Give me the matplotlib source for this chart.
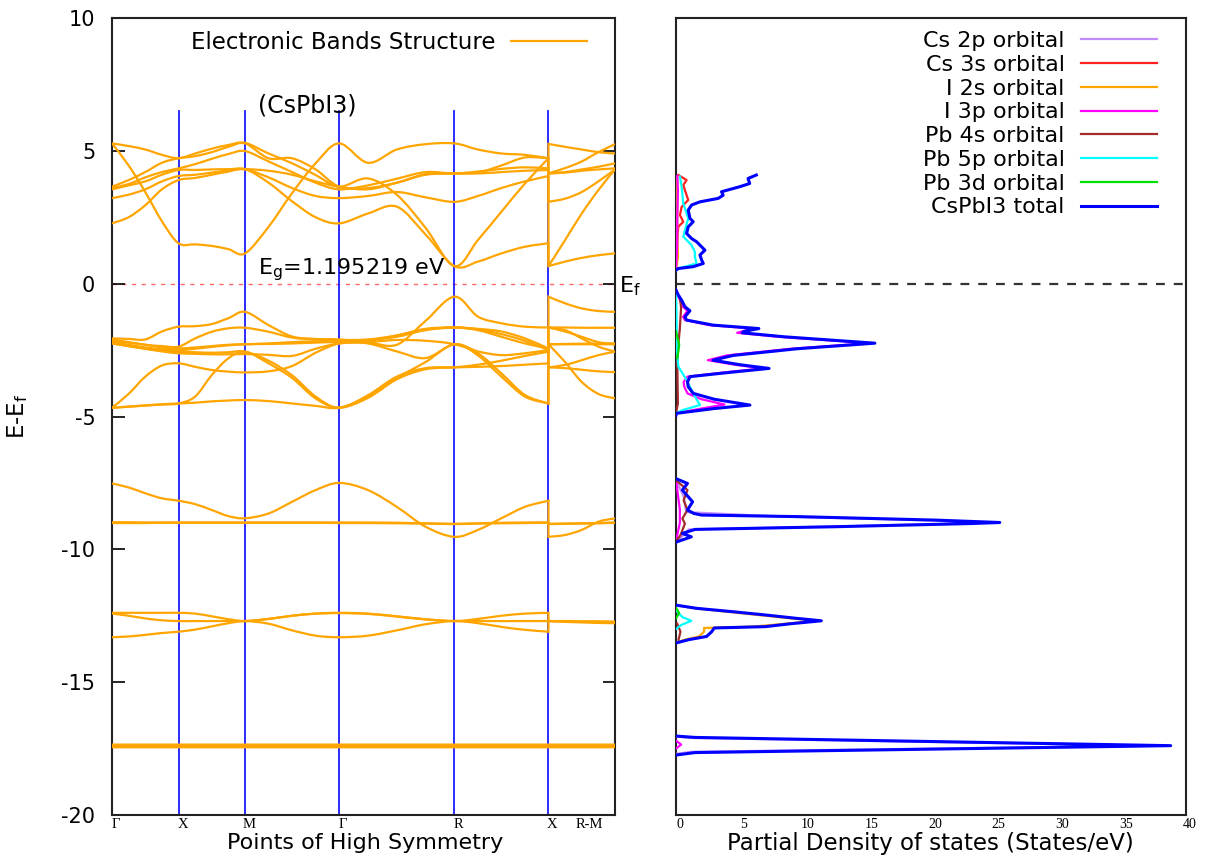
import numpy as np
import matplotlib
matplotlib.use('Agg')
import matplotlib.pyplot as plt
from matplotlib.path import Path
from matplotlib.patches import PathPatch
from matplotlib.lines import Line2D
import matplotlib.transforms as mtransforms

plt.rcParams['axes.unicode_minus'] = False

# ---------------- high-symmetry path ----------------
K_NODES = [0.0, 0.5, 1.0, 1.7071, 2.5731, 3.2802, 3.7802]
NODE_LABELS = ['Γ', 'X', 'M', 'Γ', 'R', 'X']
RM_LABEL = 'R-M'
RM_LABEL_K = 3.56
VLINE_TOP = 6.5
EG_TEXT = 'E$_\\mathrm{g}$=1.195219 eV'

# band energies (eV) sampled at 0,1/4,1/2,3/4 of each segment
# order: G..X..M..G..R..X (21 pts) | R..M (5 pts)
CB1 = [5.28, 4.45, 3.45, 2.35, 1.52, 1.48, 1.42, 1.30, 1.14, 2.14, 3.41, 4.53, 5.28, 4.55, 5.05, 5.25, 5.28, 5.05, 4.90, 4.85, 4.72,
       5.26, 5.15, 5.05, 4.95, 4.90]
CB2 = [5.28, 5.18, 5.05, 4.85, 4.72, 4.90, 5.08, 5.22, 5.30, 4.90, 4.53, 4.09, 3.65, 3.96, 3.35, 2.10, 0.66, 1.64, 2.71, 3.77, 4.72,
       0.66, 1.64, 2.64, 3.52, 4.30]
CB3 = [3.65, 3.90, 4.20, 4.55, 4.72, 4.80, 4.95, 5.15, 5.28, 4.72, 4.72, 4.30, 3.65, 3.60, 3.80, 4.10, 4.15, 4.18, 4.45, 4.75, 4.72,
       4.15, 4.35, 4.60, 4.95, 5.25]
CB4 = [3.60, 3.75, 4.00, 4.20, 4.34, 4.50, 4.70, 4.88, 4.99, 4.60, 4.20, 3.80, 3.55, 3.70, 3.95, 4.20, 4.15, 4.22, 4.32, 4.38, 4.34,
       4.15, 4.20, 4.30, 4.40, 4.53]
CB5 = [3.55, 3.70, 3.85, 4.10, 4.28, 4.28, 4.30, 4.31, 4.31, 4.00, 3.60, 3.30, 3.22, 3.30, 3.45, 3.25, 3.08, 3.30, 3.60, 3.85, 4.05,
       3.08, 3.20, 3.45, 3.85, 4.30]
CB6 = [3.22, 3.35, 3.55, 3.85, 4.05, 4.10, 4.18, 4.26, 4.31, 4.25, 4.10, 3.85, 3.65, 3.55, 3.80, 4.12, 4.15, 4.15, 4.20, 4.25, 4.28,
       4.15, 4.18, 4.25, 4.30, 4.34]
CB7 = [2.27, 2.50, 2.95, 3.55, 3.90, 3.98, 4.10, 4.22, 4.31, 3.80, 3.10, 2.50, 2.27, 2.64, 2.90, 1.85, 0.66, 0.83, 1.14, 1.39, 1.52,
       0.66, 0.83, 0.97, 1.07, 1.14]

VB1 = [-2.06, -2.08, -2.10, -1.80, -1.62, -1.60, -1.52, -1.30, -1.06, -1.56, -1.99, -2.08, -2.10, -2.20, -2.30, -1.40, -0.49, -1.24, -1.49, -1.62, -1.65,
       -0.49, -0.74, -0.93, -1.03, -1.06]
VB2 = [-2.10, -2.20, -2.30, -2.35, -2.37, -2.06, -1.81, -1.68, -1.66, -1.81, -2.03, -2.10, -2.12, -2.10, -1.95, -1.72, -1.65, -1.70, -1.80, -2.06, -2.44,
       -1.65, -1.65, -1.66, -1.66, -1.66]
VB3 = [-2.15, -2.22, -2.30, -2.40, -2.44, -2.40, -2.35, -2.30, -2.28, -2.25, -2.20, -2.17, -2.15, -2.12, -2.00, -1.75, -1.65, -1.72, -1.90, -2.15, -2.50,
       -1.65, -1.75, -2.06, -2.37, -2.56]
VB4 = [-2.20, -2.30, -2.40, -2.47, -2.50, -2.45, -2.38, -2.32, -2.28, -2.27, -2.25, -2.22, -2.20, -2.25, -2.55, -2.80, -2.28, -2.55, -2.69, -2.62, -2.50,
       -2.28, -2.28, -2.28, -2.28, -2.28]
VB5 = [-2.25, -2.35, -2.45, -2.52, -2.56, -2.58, -2.60, -2.58, -2.56, -2.90, -3.45, -4.25, -4.67, -4.20, -3.50, -3.18, -3.15, -3.13, -3.10, -3.05, -3.00,
       -3.15, -3.18, -3.24, -3.30, -3.33]
VB6 = [-2.25, -2.35, -2.45, -2.55, -2.62, -2.64, -2.66, -2.66, -2.65, -2.68, -2.72, -2.45, -2.25, -2.20, -2.12, -2.15, -2.28, -2.62, -3.38, -4.19, -4.51,
       -2.28, -2.95, -3.70, -4.15, -4.32]
VB7 = [-4.67, -4.15, -3.50, -3.08, -3.00, -3.13, -3.25, -3.31, -3.34, -3.30, -3.10, -2.60, -2.25, -2.15, -1.95, -1.70, -1.65, -1.75, -2.00, -2.25, -2.44,
       -1.65, -1.80, -2.00, -2.20, -2.28]
VB8 = [-4.67, -4.63, -4.59, -4.55, -4.51, -4.25, -3.44, -2.81, -2.56, -3.00, -3.55, -4.32, -4.67, -4.30, -3.60, -3.22, -3.15, -3.05, -2.90, -2.72, -2.56,
       -3.15, -3.06, -2.88, -2.69, -2.56]
VB9 = [-4.67, -4.63, -4.58, -4.54, -4.51, -4.48, -4.43, -4.40, -4.38, -4.42, -4.51, -4.60, -4.67, -4.25, -3.55, -2.95, -2.28, -2.70, -3.50, -4.25, -4.51,
       -2.28, -2.27, -2.26, -2.25, -2.25]

SB1 = [-7.52, -7.67, -7.89, -8.08, -8.17, -8.30, -8.52, -8.75, -8.83, -8.65, -8.21, -7.77, -7.50, -7.77, -8.40, -9.15, -9.53, -9.27, -8.83, -8.40, -8.17,
       -9.53, -9.46, -9.27, -8.96, -8.83]
FB1 = [-8.98, -8.98, -8.99, -8.99, -8.99, -8.99, -8.99, -8.99, -8.99, -8.99, -8.99, -8.99, -8.99, -8.99, -9.00, -9.02, -9.04, -9.02, -9.00, -8.99, -8.99,
       -9.04, -9.03, -9.02, -9.01, -8.99]
FB2 = [-9.01, -9.01, -9.01, -9.00, -9.00, -9.00, -9.00, -9.00, -9.00, -9.00, -9.00, -9.00, -9.01, -9.01, -9.02, -9.03, -9.05, -9.03, -9.02, -9.01, -9.00,
       -9.05, -9.04, -9.03, -9.02, -9.00]
PB1 = [-12.39, -12.39, -12.39, -12.39, -12.39, -12.42, -12.52, -12.63, -12.70, -12.62, -12.50, -12.42, -12.39, -12.42, -12.52, -12.63, -12.70, -12.62, -12.50, -12.42, -12.39,
       -12.70, -12.70, -12.71, -12.71, -12.72]
PB2 = [-12.42, -12.50, -12.60, -12.67, -12.70, -12.70, -12.70, -12.70, -12.70, -12.62, -12.50, -12.42, -12.40, -12.43, -12.53, -12.64, -12.70, -12.70, -12.70, -12.70, -12.70,
       -12.70, -12.71, -12.72, -12.73, -12.74]
PB3 = [-13.31, -13.28, -13.22, -13.15, -13.10, -13.02, -12.90, -12.78, -12.70, -12.80, -13.05, -13.25, -13.31, -13.25, -13.05, -12.82, -12.70, -12.78, -12.92, -13.03, -13.10,
       -12.70, -12.73, -12.75, -12.77, -12.78]
DB1 = [-17.35, -17.35, -17.35, -17.35, -17.35, -17.35, -17.35, -17.35, -17.35, -17.35, -17.35, -17.35, -17.35, -17.35, -17.35, -17.35, -17.35, -17.35, -17.35, -17.35, -17.35,
       -17.35, -17.35, -17.35, -17.35, -17.35]
DB2 = [-17.40, -17.40, -17.40, -17.40, -17.40, -17.40, -17.40, -17.40, -17.40, -17.40, -17.40, -17.40, -17.40, -17.40, -17.40, -17.40, -17.40, -17.40, -17.40, -17.40, -17.40,
       -17.40, -17.40, -17.40, -17.40, -17.40]
DB3 = [-17.45, -17.45, -17.45, -17.45, -17.45, -17.45, -17.45, -17.45, -17.45, -17.45, -17.45, -17.45, -17.45, -17.45, -17.45, -17.45, -17.45, -17.45, -17.45, -17.45, -17.45,
       -17.45, -17.45, -17.45, -17.45, -17.45]

BANDS = [CB1, CB2, CB3, CB4, CB5, CB6, CB7, VB1, VB2, VB3, VB4, VB5, VB6, VB7, VB8, VB9,
         SB1, FB1, FB2, PB1, PB2, PB3, DB1, DB2, DB3]

# ---------------- PDOS (energy eV, states/eV), NaN separates energy windows ----------------
NAN = float('nan')
TOT_E = [0.51, 0.57, 0.64, 0.76, 0.90, 1.08, 1.26, 1.45, 1.58, 1.70, 1.89, 2.14, 2.33, 2.46, 2.77, 2.96, 3.08, 3.21, 3.33, 3.46, 3.65, 3.77, 3.96, 4.09, NAN,
         -0.24, -0.43, -0.62, -0.87, -1.02, -1.25, -1.37, -1.56, -1.69, -1.80, -1.85, -2.00, -2.24, -2.45, -2.70, -2.88, -3.05, -3.19, -3.35, -3.50, -3.70, -3.88, -4.13, -4.35, -4.57, -4.70, -4.88, -4.95, NAN,
         -7.35, -7.52, -7.77, -8.21, -8.52, -8.65, -8.71, -8.77, -8.90, -8.99, -9.03, -9.15, -9.25, -9.40, -9.53, -9.72, NAN,
         -12.10, -12.22, -12.35, -12.47, -12.60, -12.69, -12.80, -12.91, -12.96, -13.10, -13.28, -13.40, -13.52, NAN,
         -17.03, -17.08, -17.39, -17.65, -17.74]
TOT_D = [0.0, 0.18, 1.35, 2.14, 2.00, 1.88, 2.27, 1.88, 1.61, 1.22, 0.83, 0.96, 1.35, 1.09, 0.96, 1.22, 1.88, 3.31, 3.70, 3.57, 5.00, 5.78, 5.65, 6.30, NAN,
         0.0, 0.18, 0.44, 0.70, 1.09, 0.70, 0.83, 2.90, 6.50, 5.30, 5.20, 8.50, 15.6, 9.50, 4.50, 2.90, 5.00, 7.30, 4.00, 1.10, 0.90, 0.96, 1.35, 3.00, 5.80, 3.00, 0.05, 0.0, NAN,
         0.05, 0.90, 0.50, 1.30, 0.90, 1.40, 2.00, 9.70, 20.4, 25.4, 23.1, 12.4, 1.50, 0.50, 1.20, 0.05, NAN,
         0.0, 1.60, 4.50, 7.00, 9.50, 11.4, 9.00, 7.00, 3.00, 2.80, 2.40, 1.00, 0.05, NAN,
         0.05, 1.50, 38.8, 1.50, 0.05]

I3P_E = [0.5, 1.5, 2.5, 3.5, 4.05, NAN,
         -0.24, -0.50, -0.87, -1.02, -1.25, -1.37, -1.56, -1.69, -1.85, -2.00, -2.24, -2.45, -2.70, -2.88, -3.05, -3.19, -3.35, -3.50, -3.70, -3.88, -4.13, -4.35, -4.55, -4.70, -4.88, NAN,
         -7.4, -8.5, -9.0, -9.7, NAN, -17.2, -17.35, -17.5]
I3P_D = [0.0, 0.1, 0.1, 0.15, 0.1, NAN,
         0.0, 0.20, 0.55, 0.90, 0.55, 0.70, 2.60, 6.00, 4.80, 8.00, 15.2, 9.00, 4.00, 2.50, 4.60, 6.80, 3.60, 0.90, 0.60, 0.65, 0.90, 2.00, 3.80, 2.00, 0.0, NAN,
         0.0, 0.3, 0.3, 0.0, NAN, 0.0, 0.4, 0.0]

PB5P_E = [0.51, 0.57, 0.76, 1.01, 1.20, 1.45, 1.77, 2.46, 3.02, 3.65, 4.03, NAN,
          -0.3, -1.5, -2.37, -3.12, -3.62, -4.13, -4.57, -4.76, -4.88, NAN,
          -12.30, -12.55, -12.69, -12.85, -13.0]
PB5P_D = [0.0, 0.18, 1.61, 1.48, 1.48, 1.22, 0.57, 0.96, 0.57, 0.44, 0.31, NAN,
          0.0, 0.05, 0.05, 0.18, 0.83, 1.35, 1.88, 0.5, 0.0, NAN,
          0.0, 0.5, 1.2, 0.4, 0.0]

CS3S_E = [1.20, 1.39, 2.14, 2.33, 2.58, 2.89, 3.15, 3.52, 3.71, 3.90, 4.09]
CS3S_D = [0.0, 0.05, 0.18, 0.57, 0.31, 0.44, 0.96, 0.70, 0.57, 0.83, 0.18]

PB4S_E = [-0.3, -0.5, -0.9, -1.3, -1.7, -2.2, -3.0, -4.5, -4.9, NAN,
          -7.40, -7.77, -8.15, -8.52, -8.84, -9.03, -9.47, -9.70, NAN,
          -12.8, -13.1, -13.4]
PB4S_D = [0.0, 0.3, 0.4, 0.35, 0.3, 0.2, 0.1, 0.15, 0.0, NAN,
          0.0, 0.9, 0.6, 0.9, 0.5, 0.7, 0.35, 0.0, NAN,
          0.1, 0.35, 0.2]

I2S_E = [0.5, 1.0, 2.0, 4.0, NAN,
         -12.10, -12.20, -12.35, -12.47, -12.60, -12.69, -12.80, -12.91, -12.96, -13.10, -13.28, -13.40, -13.52]
I2S_D = [0.0, 0.15, 0.1, 0.1, NAN,
         0.0, 1.2, 4.0, 6.4, 9.0, 11.0, 8.6, 6.0, 2.2, 2.2, 1.8, 0.7, 0.0]

CS2P_E = [-7.40, -8.00, -8.60, -8.77, -8.90, -8.99, -9.03, -9.15, -9.25, -9.60, -9.70, NAN,
          -17.05, -17.10, -17.39, -17.62, -17.70]
CS2P_D = [0.0, 0.6, 0.8, 8.5, 19.0, 24.0, 22.0, 11.5, 1.0, 0.3, 0.0, NAN,
          0.0, 1.2, 37.5, 1.2, 0.0]

PB3D_E = [-1.8, -2.3, -2.8, NAN, -12.2, -12.4, -12.6]
PB3D_D = [0.0, 0.25, 0.1, NAN, 0.0, 0.25, 0.0]

PDOS_LABELS = ['Cs 2p orbital', 'Cs 3s orbital', 'I 2s orbital', 'I 3p orbital',
               'Pb 4s orbital', 'Pb 5p orbital', 'Pb 3d orbital', 'CsPbI3 total']
PDOS_COLORS = ['#c08cff', '#ff2020', '#ffa500', '#ff00ff', '#a52a2a', '#00ffff', '#00e000', '#0000ff']
PDOS_E = [CS2P_E, CS3S_E, I2S_E, I3P_E, PB4S_E, PB5P_E, PB3D_E, TOT_E]
PDOS_D = [CS2P_D, CS3S_D, I2S_D, I3P_D, PB4S_D, PB5P_D, PB3D_D, TOT_D]
DOS_TICKS = [0, 5, 10, 15, 20, 25, 30, 35, 40]

# ---------------- figure ----------------
W, H = 1208, 855
fig = plt.figure(figsize=(W / 100, H / 100), dpi=100)


def fx(px):
    return px / W


def fy(py):
    return 1 - py / H


axL = fig.add_axes([fx(112), fy(815), fx(615) - fx(112), fy(18) - fy(815)])
axR = fig.add_axes([fx(676), fy(815), fx(1186) - fx(676), fy(18) - fy(815)])


# k sample positions
def seg(a, b):
    return list(np.linspace(a, b, 5))


k_main = seg(K_NODES[0], K_NODES[1]) + seg(K_NODES[1], K_NODES[2])[1:] + seg(K_NODES[2], K_NODES[3])[1:] \
    + seg(K_NODES[3], K_NODES[4])[1:] + seg(K_NODES[4], K_NODES[5])[1:]
k_last = seg(K_NODES[5], K_NODES[6])


def bezier_pieces(xs, ys):
    pts = np.column_stack([xs, ys])
    n = len(pts)
    verts, codes = [], []
    for i in range(n - 1):
        p0 = pts[i - 1] if i > 0 else pts[i]
        p1 = pts[i]
        p2 = pts[i + 1]
        p3 = pts[i + 2] if i + 2 < n else pts[i + 1]
        c1 = p1 + (p2 - p0) / 6.0
        c2 = p2 - (p3 - p1) / 6.0
        verts += [c1, c2, p2]
        codes += [Path.CURVE4] * 3
    return verts, codes


band_color = '#ffa500'
for band in BANDS:
    n1 = len(k_main)
    v1, c1 = bezier_pieces(k_main, band[:n1])
    v2, c2 = bezier_pieces(k_last, band[n1:])
    verts = [(k_main[0], band[0])] + v1 + [(k_last[0], band[n1])] + v2
    codes = [Path.MOVETO] + c1 + [Path.LINETO] + c2
    axL.add_patch(PathPatch(Path(verts, codes), fill=False, edgecolor=band_color, lw=1.6, zorder=3))

# vertical high-symmetry lines
for kx in K_NODES[1:6]:
    axL.plot([kx, kx], [-20, VLINE_TOP], color='#1a1aff', lw=1.3, zorder=2)

# Fermi level
axL.axhline(0, color='#ff6666', lw=1.0, ls=(0, (3, 4)), zorder=1)

axL.set_xlim(K_NODES[0], K_NODES[-1])
axL.set_ylim(-20, 10)
axL.set_yticks([10, 5, 0, -5, -10, -15, -20])
axL.tick_params(axis='y', direction='in', length=9, width=1.2, right=True, labelsize=15, pad=12)
tick_k = K_NODES[:6] + [RM_LABEL_K]
axL.set_xticks(tick_k)
axL.set_xticklabels(NODE_LABELS + [RM_LABEL], fontfamily='Liberation Serif', fontsize=10.5)
axL.tick_params(axis='x', length=0, pad=2)
for lab in axL.get_xticklabels():
    lab.set_transform(lab.get_transform() + mtransforms.ScaledTranslation(4 / 100, 0, fig.dpi_scale_trans))
for sp in axL.spines.values():
    sp.set_linewidth(1.5)
    sp.set_color('#222222')

axL.text(1.097, 6.72, '(CsPbI3)', fontsize=17, ha='left', va='center')
axL.text(1.097, 0.52, EG_TEXT, fontsize=16, ha='left', va='center')

leg_handle = [Line2D([], [], color=band_color, lw=1.6)]
axL.legend(leg_handle, ['Electronic Bands Structure'], loc='upper right', markerfirst=False, frameon=False,
           bbox_to_anchor=(fx(587), fy(31)), bbox_transform=fig.transFigure, fontsize=16.5,
           handlelength=3.3, handletextpad=0.7, borderpad=0, borderaxespad=0)

# ---------------- PDOS ----------------
for e, d, lab, col in zip(PDOS_E, PDOS_D, PDOS_LABELS, PDOS_COLORS):
    lw = 2.2 if lab == 'CsPbI3 total' else 1.6
    axR.plot(d, e, color=col, lw=lw, label=lab, zorder=3)

axR.axhline(0, color='#333333', lw=1.6, ls=(0, (4, 4)), zorder=1)
axR.set_xlim(0, 40)
axR.set_ylim(-20, 10)
axR.set_yticks([])
axR.set_xticks(DOS_TICKS)
axR.set_xticklabels([str(t) for t in DOS_TICKS], fontfamily='Liberation Serif', fontsize=10)
axR.tick_params(axis='x', length=0, pad=2)
for lab in axR.get_xticklabels():
    lab.set_transform(lab.get_transform() + mtransforms.ScaledTranslation(4 / 100, 0, fig.dpi_scale_trans))
for sp in axR.spines.values():
    sp.set_linewidth(1.5)
    sp.set_color('#222222')

axR.legend(loc='upper right', markerfirst=False, frameon=False,
           bbox_to_anchor=(fx(1157), fy(31)), bbox_transform=fig.transFigure, fontsize=16,
           handlelength=3.4, handletextpad=0.75, borderpad=0, borderaxespad=0, labelspacing=0.17)

# ---------------- labels ----------------
fig.text(fx(18), fy(416), 'E-E$_\\mathrm{f}$', rotation=90, fontsize=16.5, ha='center', va='center')
fig.text(fx(365), fy(843), 'Points of High Symmetry', fontsize=16, ha='center', va='center')
fig.text(fx(930), fy(843), 'Partial Density of states (States/eV)', fontsize=16.5, ha='center', va='center')
fig.text(fx(619), fy(286), 'E$_\\mathrm{f}$', fontsize=16, ha='left', va='center')

fig.savefig('out.png', dpi=100)
